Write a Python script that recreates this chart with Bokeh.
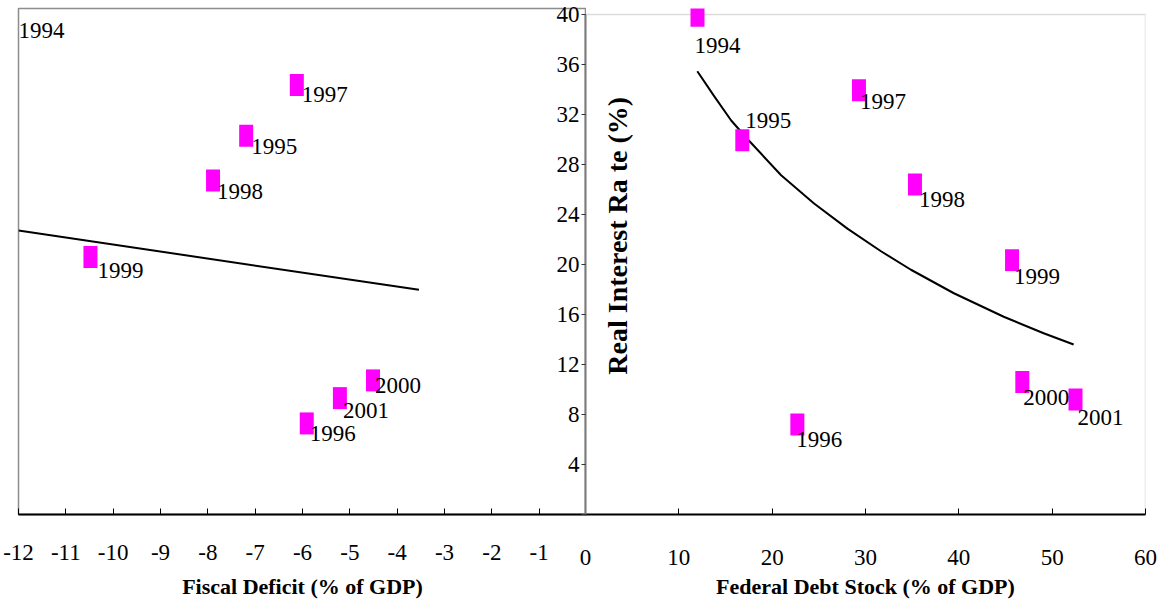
from math import pi

from bokeh.core.properties import value
from bokeh.embed import file_html
from bokeh.layouts import row
from bokeh.models import BoxAnnotation, ColumnDataSource, FixedTicker, Label, Range1d
from bokeh.plotting import figure
from bokeh.resources import INLINE

# Annual observations
years = ["1994", "1995", "1996", "1997", "1998", "1999", "2000", "2001"]
real_rate = [39.9, 29.95, 7.2, 33.95, 26.4, 20.35, 10.6, 9.2]
fiscal_deficit = [-12.6, -7.19, -5.91, -6.12, -7.89, -10.48, -4.51, -5.21]
debt_stock = [12.0, 16.8, 22.7, 29.3, 35.3, 45.7, 46.8, 52.5]

# Fitted trend lines
deficit_trend_x = [-12.0, -3.54]
deficit_trend_y = [22.45, 17.76]
debt_trend_x = [11.98, 13.80, 15.61, 17.40, 20.96, 24.49, 28.10, 31.66, 34.87, 39.47, 44.81, 49.09, 52.30]
debt_trend_y = [35.46, 33.45, 31.52, 30.00, 27.14, 24.88, 22.85, 21.06, 19.58, 17.70, 15.82, 14.50, 13.60]

# Axis ticks
deficit_ticks = list(range(-12, 1))
debt_ticks = list(range(0, 61, 10))
rate_ticks = list(range(0, 41, 4))

# Year-label placement next to each marker (px right, px down)
LEFT_LABEL_SHIFT = {"1994": (0, 13), "1995": (5, 3), "1996": (3, 3), "1997": (5, 2),
                    "1998": (4, 3), "1999": (7, 6), "2000": (2, -2), "2001": (3, 5)}
RIGHT_LABEL_SHIFT = {"1994": (-3, 22), "1995": (3, -27), "1996": (-1, 7), "1997": (1, 4),
                     "1998": (4, 7), "1999": (2, 9), "2000": (1, 8), "2001": (2, 10)}

SERIF = "Liberation Serif"
MAGENTA = "#ff00ff"
FRAME_GREY = "#8c8c8c"
TICK_PX = "23px"
YEAR_PX = "23px"
TITLE_PX = "22px"

LEFT_X = (-12, 0)
RIGHT_X = (0, 60)
RATE_Y = (0, 40)


def label_source(xs, shifts):
    return ColumnDataSource(dict(
        x=xs, y=real_rate, text=years,
        dx=[shifts[yr][0] for yr in years],
        dy=[shifts[yr][1] for yr in years],
    ))


def style_axis(ax):
    ax.major_label_text_font = SERIF
    ax.major_label_text_font_size = TICK_PX
    ax.major_label_text_color = "black"
    ax.axis_label_text_font = SERIF
    ax.axis_label_text_font_style = "bold"
    ax.axis_label_text_font_size = TITLE_PX
    ax.axis_label_text_color = "black"
    ax.minor_tick_line_color = None


# ---- Left panel: fiscal deficit ----
left = figure(title=None, frame_width=568, frame_height=506, output_backend="svg",
              toolbar_location=None, x_range=Range1d(*LEFT_X), y_range=Range1d(*RATE_Y),
              min_border_left=18, min_border_right=0, min_border_top=8, min_border_bottom=80)
left.grid.visible = False
left.yaxis.visible = False
left.outline_line_color = FRAME_GREY
left.outline_line_width = 1.5
left.background_fill_color = "white"
left.border_fill_color = "white"

xa = left.xaxis[0]
style_axis(xa)
xa.ticker = FixedTicker(ticks=deficit_ticks)
xa.major_label_overrides = {t: (str(t) if t != 0 else "") for t in deficit_ticks}
xa.axis_label = "Fiscal Deficit (% of GDP)"
xa.axis_line_color = "black"
xa.axis_line_width = 2
xa.major_tick_line_color = "black"
xa.major_tick_in = 6
xa.major_tick_out = 0
xa.major_label_standoff = 30
xa.axis_label_standoff = 11

left.line(deficit_trend_x, deficit_trend_y, line_color="black", line_width=2)
left.rect(fiscal_deficit, real_rate, width=14, height=22, width_units="screen",
          height_units="screen", fill_color=MAGENTA, line_color=None)
# a label whose point lies left of the axis is kept at the plot-area edge
left_label_x = [max(v, LEFT_X[0]) for v in fiscal_deficit]
left.text(x="x", y="y", text="text", x_offset="dx", y_offset="dy",
          source=label_source(left_label_x, LEFT_LABEL_SHIFT),
          text_font=value(SERIF), text_font_size=YEAR_PX, text_color="black",
          text_align="left", text_baseline="top")

# ---- Right panel: federal debt stock ----
# the frame reaches a little above 40 so the top marker shows; the box
# annotation draws the plot-area border at the 0..40 limits
right = figure(title=None, frame_width=560, frame_height=506, output_backend="svg",
               toolbar_location=None, x_range=Range1d(*RIGHT_X), y_range=Range1d(RATE_Y[0], 40.48),
               min_border_left=40, min_border_right=20, min_border_top=8, min_border_bottom=80,
               margin=(0, 0, 0, -41))
right.grid.visible = False
right.outline_line_color = None
right.background_fill_color = None
right.border_fill_color = None
right.add_layout(BoxAnnotation(left=RIGHT_X[0], right=RIGHT_X[1], bottom=RATE_Y[0], top=RATE_Y[1],
                               fill_color=None, line_color=FRAME_GREY, line_width=1.5,
                               level="underlay"))

rx = right.xaxis[0]
style_axis(rx)
rx.ticker = FixedTicker(ticks=debt_ticks)
rx.axis_label = "Federal Debt Stock (% of GDP)"
rx.axis_line_color = "black"
rx.axis_line_width = 2
rx.major_tick_line_color = "black"
rx.major_tick_in = 6
rx.major_tick_out = 0
rx.major_label_standoff = 35
rx.axis_label_standoff = 6

ry = right.yaxis[0]
style_axis(ry)
ry.ticker = FixedTicker(ticks=rate_ticks)
ry.bounds = RATE_Y
ry.major_label_overrides = {t: (str(t) if t != 0 else "") for t in rate_ticks}
ry.axis_line_color = "#7a7a7a"
ry.axis_line_width = 2
ry.major_tick_line_color = "#333333"
ry.major_tick_in = 0
ry.major_tick_out = 4
ry.major_label_standoff = 2

right.add_layout(Label(x=3.4, y=22.3, text="Real Interest Ra te (%)", angle=pi / 2,
                       text_align="center", text_baseline="middle",
                       text_font=SERIF, text_font_style="bold", text_font_size="28px",
                       text_color="black"))

right.line(debt_trend_x, debt_trend_y, line_color="black", line_width=2)
right.rect(debt_stock, real_rate, width=14, height=22, width_units="screen",
           height_units="screen", fill_color=MAGENTA, line_color=None)
right.text(x="x", y="y", text="text", x_offset="dx", y_offset="dy",
           source=label_source(debt_stock, RIGHT_LABEL_SHIFT),
           text_font=value(SERIF), text_font_size=YEAR_PX, text_color="black",
           text_align="left", text_baseline="top")

page = row(left, right)
open("out.html", "w").write(file_html(page, INLINE))
